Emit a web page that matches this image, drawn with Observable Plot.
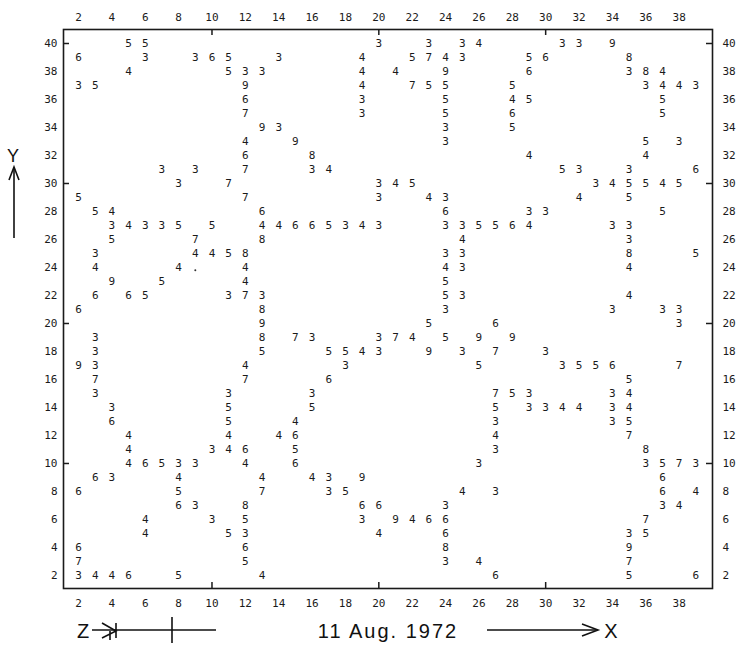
<!DOCTYPE html>
<html><head><meta charset="utf-8">
<script src="https://cdn.jsdelivr.net/npm/d3@7"></script>
<script src="https://cdn.jsdelivr.net/npm/@observablehq/plot@0.6"></script>
<style>
body{margin:0;background:#fff;}
#wrap{position:relative;width:741px;height:648px;overflow:hidden;background:#fff;}
#chart{position:absolute;left:0;top:0;}
#deco{position:absolute;left:0;top:0;pointer-events:none;}
</style></head><body>
<div id="wrap"><div id="chart"></div>
<svg id="deco" width="741" height="648" font-family="'Liberation Sans', Arial, sans-serif" fill="#111" stroke="none">
  <text x="13" y="162" font-size="18" text-anchor="middle">Y</text>
  <line x1="14" y1="238" x2="14" y2="168" stroke="#111" stroke-width="1.6"/>
  <path d="M9,180 L14,167 L19,180" fill="none" stroke="#111" stroke-width="1.6"/>
  <text x="83" y="638" font-size="20" text-anchor="middle">Z</text>
  <line x1="92" y1="630" x2="216" y2="630" stroke="#111" stroke-width="1.6"/>
  <line x1="172" y1="617" x2="172" y2="643" stroke="#111" stroke-width="1.6"/>
  <path d="M102,623 L116,631 L102,638 M116,623 L116,638 M110,631 L110,640" fill="none" stroke="#111" stroke-width="1.6"/>
  <text x="388" y="638" font-size="20" letter-spacing="2" text-anchor="middle">11 Aug. 1972</text>
  <line x1="487" y1="630" x2="596" y2="630" stroke="#111" stroke-width="1.6"/>
  <path d="M582,624 L598,630 L582,636" fill="none" stroke="#111" stroke-width="1.6"/>
  <text x="611" y="638" font-size="20" text-anchor="middle">X</text>
</svg>
</div>
<script>
// Grid rows (y value) and, for each row, the x columns and the digits printed there
const rowY = [40,39,38,37,36,35,34,33,32,31,30,29,28,27,26,25,24,23,22,21,20,19,18,17,16,15,14,13,12,11,10,9,8,7,6,5,4,3,2];
const rowX = [
  [5,6,20,23,25,26,31,32,34],
  [2,6,9,10,11,14,19,22,23,24,25,29,30,35],
  [5,11,12,13,19,21,24,29,35,36,37],
  [2,3,12,19,22,23,24,28,36,37,38,39],
  [12,19,24,28,29,37],
  [12,19,24,28,37],
  [13,14,24,28],
  [12,15,24,36,38],
  [12,16,29,36],
  [7,9,12,16,17,31,32,35,39],
  [8,11,20,21,22,33,34,35,36,37,38],
  [2,12,20,23,24,32,35],
  [3,4,13,24,29,30,37],
  [4,5,6,7,8,10,13,14,15,16,17,18,19,20,24,25,26,27,28,29,34,35],
  [4,9,13,25,35],
  [3,9,10,11,12,24,25,35,39],
  [3,8,12,24,25,35],
  [4,7,12,24],
  [3,5,6,11,12,13,24,25,35],
  [2,13,24,34,37,38],
  [13,23,27,38],
  [3,13,15,16,20,21,22,24,26,28],
  [3,13,17,18,19,20,23,25,27,30],
  [2,3,12,18,26,31,32,33,34,38],
  [3,12,17,35],
  [3,11,16,27,28,29,34,35],
  [4,11,16,27,29,30,31,32,34,35],
  [4,11,15,27,34,35],
  [5,11,14,15,27,35],
  [5,10,11,12,15,27,36],
  [5,6,7,8,9,12,15,26,36,37,38,39],
  [3,4,8,13,16,17,19,37],
  [2,8,13,17,18,25,27,37,39],
  [8,9,12,19,20,24,37,38],
  [6,10,12,19,21,22,23,24,36],
  [6,11,12,20,24,35,36],
  [2,12,24,35],
  [2,12,24,26,35],
  [2,3,4,5,8,13,27,35,39]
];
const rowDigits = [
  "553334339",
  "63365345743568",
  "45334496384",
  "359475553443",
  "635455",
  "73565",
  "9335",
  "49353",
  "6844",
  "337345336",
  "37345345545",
  "5734345",
  "5466335",
  "3433554466534333556433",
  "57843",
  "344583385",
  "444434",
  "9545",
  "665373534",
  "683333",
  "9563",
  "3873374599",
  "3555439373",
  "9343535567",
  "7765",
  "33375334",
  "3555334434",
  "654335",
  "444647",
  "4346538",
  "465334633573",
  "63444396",
  "657354364",
  "63866334",
  "435394667",
  "4534635",
  "6689",
  "75347",
  "344654656"
];
// a small dot printed in the grid
const dotX = [9];
const dotY = [23.8];

const xTickLabels = d3.range(2, 39, 2);
const yTickLabels = d3.range(2, 41, 2);
const frameTicks = [10, 20, 30];
const frameTicksY = [10, 20, 30, 40];

const cells = [];
rowY.forEach((y, i) => {
  rowX[i].forEach((x, j) => cells.push({x, y, d: rowDigits[i][j]}));
});
const dots = dotX.map((x, i) => ({x, y: dotY[i]}));

const W = 741, H = 648, mT = 29, mB = 60, mL = 63, mR = 29;
const fw = W - mL - mR, fh = H - mT - mB;
const font = "'DejaVu Sans Mono', monospace";

const chart = Plot.plot({
  width: W, height: H,
  marginTop: mT, marginBottom: mB, marginLeft: mL, marginRight: mR,
  style: {fontFamily: font, fontSize: "11px", color: "#1a1a1a", background: "transparent"},
  x: {domain: [1.1, 40.0]},
  y: {domain: [1.07, 41.0]},
  marks: [
    Plot.frame({stroke: "#1a1a1a", strokeWidth: 1.6}),
    Plot.axisX(xTickLabels, {anchor: "bottom", tickSize: 0, tickPadding: 11, label: null, fontSize: 11}),
    Plot.axisX(xTickLabels, {anchor: "top", tickSize: 0, tickPadding: 9, label: null, fontSize: 11}),
    Plot.axisY(yTickLabels, {anchor: "left", tickSize: 0, tickPadding: 6, label: null, fontSize: 11}),
    Plot.axisY(yTickLabels, {anchor: "right", tickSize: 0, tickPadding: 10, label: null, fontSize: 11}),
    Plot.tickX(frameTicks, {x: d => d, insetTop: fh - 6, stroke: "#1a1a1a", strokeWidth: 1.5}),
    Plot.tickX(frameTicks, {x: d => d, insetBottom: fh - 6, stroke: "#1a1a1a", strokeWidth: 1.5}),
    Plot.tickY(frameTicksY, {y: d => d, insetRight: fw - 6, stroke: "#1a1a1a", strokeWidth: 1.5}),
    Plot.tickY(frameTicksY, {y: d => d, insetLeft: fw - 6, stroke: "#1a1a1a", strokeWidth: 1.5}),
    Plot.text(cells, {x: "x", y: "y", text: "d", fontSize: 11, fill: "#1a1a1a", fontFamily: font}),
    Plot.dot(dots, {x: "x", y: "y", r: 1, fill: "#333", stroke: null})
  ]
});
document.getElementById("chart").appendChild(chart);
</script>
</body></html>
